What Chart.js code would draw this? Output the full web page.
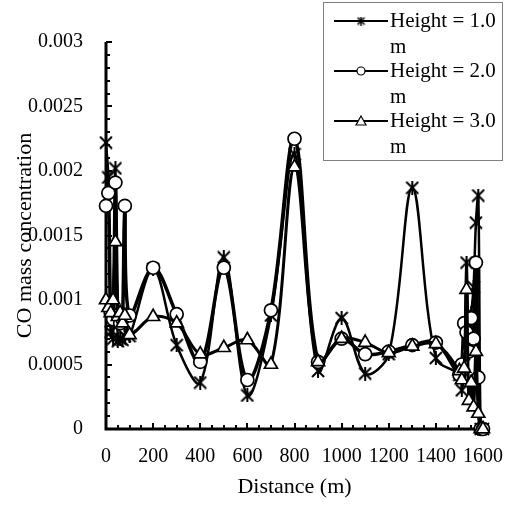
<!DOCTYPE html>
<html>
<head>
<meta charset="utf-8">
<script src="https://cdn.jsdelivr.net/npm/chart.js@4/dist/chart.umd.min.js"></script>
<style>
  body { margin: 0; background: #fff; }
</style>
</head>
<body>
<canvas id="myChart" width="519" height="510"></canvas>
<script>
// values
const distance = [0, 10, 20, 30, 40, 50, 60, 70, 80, 100,
  200, 300, 400, 500, 600, 700, 800, 900, 1000, 1100, 1200, 1300, 1400,
  1500, 1510, 1520, 1530, 1540, 1550, 1560, 1570, 1580, 1590, 1600];
const height1 = [0.00222, 0.00195, 0.00075, 0.0007, 0.00202, 0.00068, 0.0007, 0.00069, 0.00072, 0.00072,
  0.00124, 0.00065, 0.00036, 0.00133, 0.00026, 0.00088, 0.00213, 0.00045, 0.00086, 0.00043, 0.00058, 0.00187, 0.00055,
  0.00042, 0.0003, 0.0005, 0.00129, 0.0007, 0.0009, 0.0011, 0.0016, 0.00181, 0, 0];
const height2 = [0.00173, 0.00183, 0.0009, 0.00085, 0.00191, 0.00088, 0.00082, 0.00085, 0.00173, 0.00088,
  0.00125, 0.00089, 0.00052, 0.00125, 0.00038, 0.00092, 0.00225, 0.00052, 0.0007, 0.00058, 0.0006, 0.00065, 0.00067,
  0.00042, 0.0005, 0.00082, 0.00075, 0.0006, 0.00086, 0.0007, 0.00129, 0.0004, 0, 0];
const height3 = [0.001, 0.00094, 0.0009, 0.001, 0.00145, 0.00087, 0.0009, 0.00082, 0.00088, 0.00073,
  0.00087, 0.00082, 0.00058, 0.00063, 0.00069, 0.0005, 0.00203, 0.00052, 0.0007, 0.00067, 0.00059, 0.00064, 0.00066,
  0.00045, 0.00038, 0.00047, 0.00108, 0.00022, 0.00036, 0.00017, 0.0006, 0.00012, 0, 0];
const seriesNames = ["Height = 1.0 m", "Height = 2.0 m", "Height = 3.0 m"];
const xTicks = [0, 200, 400, 600, 800, 1000, 1200, 1400, 1600];
const xTickLabels = ["0", "200", "400", "600", "800", "1000", "1200", "1400", "1600"];
const yTicks = [0, 0.0005, 0.001, 0.0015, 0.002, 0.0025, 0.003];
const yTickLabels = ["0", "0.0005", "0.001", "0.0015", "0.002", "0.0025", "0.003"];

const serif = "'Liberation Serif', 'Times New Roman', serif";

// excel style asterisk marker
function makeStar(size, lw) {
  const c = document.createElement("canvas");
  c.width = size;
  c.height = size;
  const g = c.getContext("2d");
  g.strokeStyle = "#000";
  g.lineWidth = lw;
  g.beginPath();
  g.moveTo(1, 1); g.lineTo(size - 1, size - 1);
  g.moveTo(size - 1, 1); g.lineTo(1, size - 1);
  g.moveTo(size / 2, 0); g.lineTo(size / 2, size);
  g.stroke();
  return c;
}
const star = makeStar(14, 2);
const smallStar = makeStar(9, 1.5);

const allValues = [height1, height2, height3];
const styles = [
  { pointStyle: star, radius: 7, lineWidth: 2.5 },
  { pointStyle: "circle", radius: 6.5, lineWidth: 3.5 },
  { pointStyle: "triangle", radius: 7.5, lineWidth: 3 }
];

const datasets = allValues.map((vals, i) => ({
  label: seriesNames[i],
  data: distance.map((d, k) => ({ x: d, y: vals[k] })),
  borderColor: "#000",
  borderWidth: styles[i].lineWidth,
  backgroundColor: "#fff",
  pointStyle: styles[i].pointStyle,
  pointRadius: styles[i].radius,
  pointBackgroundColor: "#fff",
  pointBorderColor: "#000",
  pointBorderWidth: 1.7,
  tension: 0.35,
  clip: false,
  order: 2 - i
}));

const axesPlugin = {
  id: "excelAxes",
  beforeDatasetsDraw(chart) {
    const { ctx, chartArea: a, scales: { x, y } } = chart;
    ctx.save();
    ctx.strokeStyle = "#000";
    ctx.lineWidth = 3;
    ctx.beginPath();
    ctx.moveTo(a.left, a.top);
    ctx.lineTo(a.left, a.bottom);
    ctx.lineTo(a.right, a.bottom);
    ctx.stroke();
    ctx.lineWidth = 2;
    ctx.beginPath();
    for (let k = 0; k <= 30; k++) {
      const py = Math.round(y.getPixelForValue(k * 0.0001));
      const len = k % 5 === 0 ? 6 : 4;
      ctx.moveTo(a.left, py);
      ctx.lineTo(a.left + len, py);
    }
    for (let v = 0; v <= 1600; v += 50) {
      const px = Math.round(x.getPixelForValue(v));
      const len = v % 200 === 0 ? 6 : 4;
      ctx.moveTo(px, a.bottom);
      ctx.lineTo(px, a.bottom - len);
    }
    ctx.stroke();
    ctx.restore();
  }
};

const legendPlugin = {
  id: "boxLegend",
  afterDraw(chart) {
    const ctx = chart.ctx;
    ctx.save();
    ctx.fillStyle = "#fff";
    ctx.fillRect(323, 2, 179, 158);
    ctx.strokeStyle = "#808080";
    ctx.lineWidth = 1;
    ctx.strokeRect(323.5, 2.5, 179, 158);
    ctx.font = "21px " + serif;
    ctx.textBaseline = "middle";
    ctx.textAlign = "left";
    chart.data.datasets.forEach((ds, i) => {
      const yy = 21 + i * 50;
      ctx.strokeStyle = "#000";
      ctx.lineWidth = 2;
      ctx.beginPath();
      ctx.moveTo(334, yy);
      ctx.lineTo(388, yy);
      ctx.stroke();
      ctx.fillStyle = "#fff";
      ctx.lineWidth = 1.2;
      if (i === 0) {
        ctx.drawImage(smallStar, 361 - 4.5, yy - 4.5);
      } else if (i === 1) {
        ctx.beginPath();
        ctx.arc(361, yy, 4, 0, Math.PI * 2);
        ctx.fill();
        ctx.stroke();
      } else {
        ctx.beginPath();
        ctx.moveTo(361, yy - 5);
        ctx.lineTo(366, yy + 4);
        ctx.lineTo(356, yy + 4);
        ctx.closePath();
        ctx.fill();
        ctx.stroke();
      }
      // wrap the label like the original
      const words = ds.label.split(" ");
      const lines = [];
      let cur = "";
      words.forEach(w => {
        const test = cur ? cur + " " + w : w;
        if (cur && ctx.measureText(test).width > 108) {
          lines.push(cur);
          cur = w;
        } else {
          cur = test;
        }
      });
      lines.push(cur);
      ctx.fillStyle = "#000";
      lines.forEach((t, j) => ctx.fillText(t, 390, yy + j * 26));
    });
    ctx.restore();
  }
};

const config = {
  type: "line",
  data: { datasets: datasets },
  options: {
    responsive: false,
    animation: false,
    devicePixelRatio: 1,
    layout: { padding: { top: 42, right: 25, left: 0, bottom: 0 } },
    plugins: { legend: { display: false }, tooltip: { enabled: false } },
    scales: {
      x: {
        type: "linear",
        min: 0,
        max: 1600,
        afterBuildTicks: s => { s.ticks = xTicks.map(v => ({ value: v })); },
        afterFit: s => { s.height = 81; },
        grid: { display: false, drawTicks: false },
        border: { display: false },
        ticks: { color: "#000", font: { family: serif, size: 20 }, padding: 16, maxRotation: 0, autoSkip: false, callback: (v, i) => xTickLabels[i] },
        title: { display: true, text: "Distance (m)", color: "#000", font: { family: serif, size: 22 }, padding: { top: 0, bottom: 10 } }
      },
      y: {
        type: "linear",
        min: 0,
        max: 0.003,
        afterBuildTicks: s => { s.ticks = yTicks.map(v => ({ value: v })); },
        afterFit: s => { s.width = 106; },
        grid: { display: false, drawTicks: false },
        border: { display: false },
        ticks: { color: "#000", font: { family: serif, size: 20 }, padding: 23, callback: (v, i) => yTickLabels[i] },
        title: { display: true, text: "CO mass concentration", color: "#000", font: { family: serif, size: 22 }, padding: { top: 12, bottom: 0 } }
      }
    }
  },
  plugins: [axesPlugin, legendPlugin]
};

const myChart = new Chart(document.getElementById("myChart"), config);
</script>
</body>
</html>
